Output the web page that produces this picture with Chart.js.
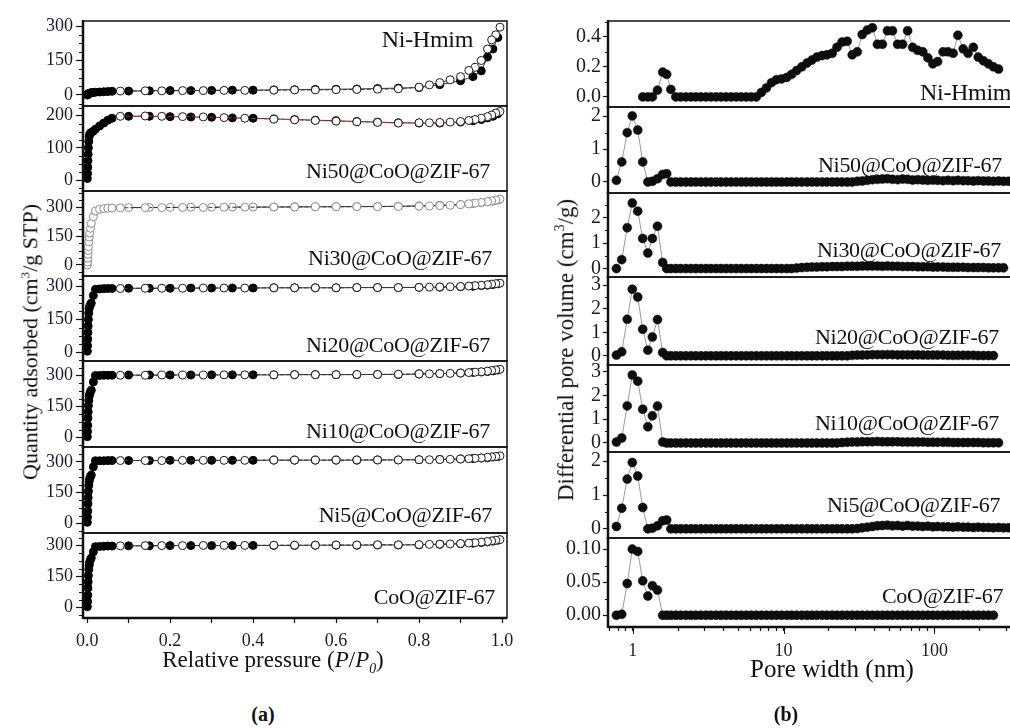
<!DOCTYPE html>
<html>
<head>
<meta charset="utf-8">
<script src="https://cdn.jsdelivr.net/npm/chart.js@4.4.1/dist/chart.umd.min.js"></script>
<style>
html, body { margin: 0; padding: 0; width: 1010px; height: 728px; overflow: hidden; background: #fff; }
body { position: relative; font-family: "Liberation Serif", "Times New Roman", serif; color: #111; }
canvas { position: absolute; }
.txt { position: absolute; line-height: 1; white-space: nowrap; }
.lbl { letter-spacing: -0.3px; }
</style>
</head>
<body>
<script>
// ---- data: sample names ----
const SAMPLES = ['Ni-Hmim', 'Ni50@CoO@ZIF-67', 'Ni30@CoO@ZIF-67', 'Ni20@CoO@ZIF-67', 'Ni10@CoO@ZIF-67', 'Ni5@CoO@ZIF-67', 'CoO@ZIF-67'];

// ---- (a) N2 isotherms: relative pressure of adsorption / desorption points ----
const P_ADS = [0.0005, 0.001, 0.0015, 0.002, 0.0025, 0.003, 0.004, 0.005, 0.006, 0.008, 0.01, 0.015, 0.02, 0.03, 0.04, 0.05, 0.06,
    0.1, 0.15, 0.2, 0.25, 0.3, 0.35, 0.4, 0.45, 0.5, 0.55, 0.6, 0.65, 0.7, 0.75, 0.8, 0.85, 0.9, 0.93, 0.95, 0.965, 0.978, 0.99];
const P_DES = [0.995, 0.985, 0.975, 0.965, 0.95, 0.935, 0.92, 0.9, 0.875, 0.85, 0.825, 0.8, 0.75, 0.7, 0.65, 0.6, 0.55, 0.5, 0.45,
    0.38, 0.33, 0.28, 0.23, 0.18, 0.14, 0.08];

// quantity adsorbed (cm3/g STP)
const ADS_HMIM = [0, 1, 2, 3, 4, 5, 6, 7, 8, 9, 10, 11, 12, 13, 14, 15, 16, 17, 18, 19, 19, 20, 21, 21, 22, 23, 24, 25, 26, 28, 30, 32, 45, 62, 80, 105, 165, 200, 250];
const DES_HMIM = [295, 262, 240, 200, 150, 120, 107, 80, 66, 54, 44, 34, 27, 25, 24, 23, 22, 22, 21, 20, 20, 19, 19, 18, 18, 17];
const ADS_NI50 = [5, 20, 40, 60, 80, 100, 120, 135, 142, 146, 148, 152, 158, 168, 177, 186, 192, 198, 198, 197, 196, 195, 193, 192, 190, 188, 186, 184, 182, 180, 178, 177, 177, 180, 184, 188, 193, 198, 206];
const DES_NI50 = [213, 208, 202, 197, 192, 188, 185, 182, 180, 179, 178, 178, 177, 179, 181, 183, 185, 187, 189, 192, 194, 196, 197, 198, 199, 198];
const ADS_NI30 = [0, 15, 35, 55, 75, 95, 120, 145, 165, 190, 215, 250, 279, 288, 292, 294, 295, 297, 298, 298, 299, 299, 300, 300, 300, 301, 301, 302, 302, 303, 304, 306, 309, 313, 318, 322, 326, 330, 336];
const DES_NI30 = [341, 336, 332, 328, 324, 320, 316, 312, 309, 307, 305, 304, 303, 302, 302, 301, 301, 300, 300, 299, 299, 298, 298, 297, 297, 296];
const ADS_NI20 = [5, 30, 60, 90, 120, 150, 180, 200, 210, 218, 225, 260, 288, 290, 291, 292, 292, 293, 293, 293, 294, 294, 294, 294, 295, 295, 295, 295, 296, 296, 296, 297, 298, 300, 302, 305, 307, 310, 313];
const DES_NI20 = [316, 314, 312, 309, 307, 305, 303, 301, 300, 299, 298, 297, 296, 296, 296, 295, 295, 295, 295, 294, 294, 294, 293, 293, 293, 292];
const ADS_NI10 = [5, 30, 60, 95, 125, 155, 180, 200, 212, 222, 230, 270, 300, 301, 302, 302, 302, 303, 303, 303, 303, 304, 304, 304, 304, 305, 305, 305, 305, 306, 306, 308, 310, 313, 316, 318, 320, 323, 327];
const DES_NI10 = [331, 328, 325, 322, 319, 317, 315, 313, 311, 310, 309, 308, 307, 306, 306, 305, 305, 305, 304, 304, 304, 303, 303, 303, 302, 302];
const ADS_NI5 = [5, 30, 60, 95, 125, 155, 185, 205, 218, 228, 235, 275, 305, 305, 305, 306, 306, 306, 306, 307, 307, 307, 307, 307, 308, 308, 308, 308, 308, 309, 309, 310, 312, 314, 316, 318, 320, 323, 326];
const DES_NI5 = [329, 326, 324, 322, 319, 317, 315, 313, 312, 311, 310, 310, 309, 309, 309, 308, 308, 308, 308, 307, 307, 307, 307, 306, 306, 306];
const ADS_COO = [5, 30, 60, 95, 125, 155, 185, 205, 220, 232, 240, 270, 295, 296, 297, 298, 298, 299, 299, 300, 300, 300, 300, 301, 301, 301, 302, 302, 302, 303, 303, 304, 306, 309, 312, 315, 318, 322, 326];
const DES_COO = [329, 326, 323, 320, 317, 314, 312, 310, 308, 307, 306, 305, 304, 304, 303, 303, 302, 302, 302, 301, 301, 301, 300, 300, 300, 299];

// ---- (b) pore size distribution: pore width (nm) and differential pore volume (cm3/g) ----
const WIDTH = [0.78, 0.846, 0.92, 0.994, 1.08, 1.165, 1.26, 1.35, 1.46, 1.58,
    1.68, 1.79, 1.93, 2.08, 2.25, 2.43, 2.62, 2.83, 3.06, 3.30,
    3.57, 3.85, 4.16, 4.49, 4.85, 5.24, 5.66, 6.11, 6.60, 7.13,
    7.70, 8.32, 8.98, 9.70, 10.5, 11.3, 12.2, 13.2, 14.3, 15.4,
    16.6, 18.0, 19.4, 21.0, 22.6, 24.4, 26.4, 28.5, 30.8, 33.2,
    35.9, 38.8, 41.9, 45.2, 48.8, 52.7, 57.0, 61.5, 66.4, 71.7,
    77.5, 83.7, 90.4, 97.6, 105, 114, 123, 133, 143, 155,
    167, 181, 195, 211, 228, 246, 266, 287, 310, 335];
const PSD_HMIM = [null, null, null, null, null, 0, 0, 0, 0.045, 0.165,
    0.15, 0.05, 0, 0, 0, 0, 0, 0, 0, 0,
    0, 0, 0, 0, 0, 0, 0, 0, 0, 0.03,
    0.06, 0.095, 0.115, 0.12, 0.13, 0.15, 0.175, 0.2, 0.225, 0.245,
    0.265, 0.275, 0.28, 0.29, 0.33, 0.365, 0.37, 0.28, 0.3, 0.415,
    0.445, 0.46, 0.35, 0.35, 0.44, 0.44, 0.35, 0.35, 0.44, 0.33,
    0.31, 0.3, 0.26, 0.22, 0.235, 0.3, 0.3, 0.29, 0.41, 0.32,
    0.29, 0.33, 0.265, 0.24, 0.22, 0.2, 0.185, null, null, null];
const PSD_NI50 = [0.05, 0.61, 1.5, 2.01, 1.58, 0.61, 0, 0.02, 0.1, 0.23,
    0.25, 0, 0, 0, 0, 0, 0, 0, 0, 0,
    0, 0, 0, 0, 0, 0, 0, 0, 0, 0,
    0, 0, 0, 0, 0, 0, 0, 0, 0, 0,
    0, 0, 0, 0, 0, 0, 0, 0, 0.02, 0.03,
    0.05, 0.07, 0.08, 0.09, 0.1, 0.08, 0.07, 0.09, 0.08, 0.06,
    0.07, 0.06, 0.05, 0.06, 0.05, 0.04, 0.05, 0.04, 0.05, 0.04,
    0.04, 0.03, 0.04, 0.03, 0.03, 0.02, 0.03, 0.02, 0.02, 0.02];
const PSD_NI30 = [0, 0.35, 1.6, 2.57, 2.25, 1.18, 0.61, 1.18, 1.66, 0.24,
    0, 0, 0, 0, 0, 0, 0, 0, 0, 0,
    0, 0, 0, 0, 0, 0, 0, 0, 0, 0,
    0, 0, 0, 0, 0, 0, 0.02, 0.04, 0.05, 0.06,
    0.06, 0.07, 0.07, 0.08, 0.08, 0.08, 0.09, 0.09, 0.09, 0.1,
    0.1, 0.1, 0.1, 0.09, 0.1, 0.09, 0.09, 0.08, 0.08, 0.08,
    0.07, 0.07, 0.07, 0.06, 0.06, 0.06, 0.05, 0.05, 0.05, 0.05,
    0.04, 0.04, 0.04, 0.04, 0.03, 0.03, 0.03, 0.03, null, null];
const PSD_NI20 = [0.03, 0.17, 1.55, 2.83, 2.5, 1.13, 0.24, 0.8, 1.54, 0.14,
    0, 0, 0, 0, 0, 0, 0, 0, 0, 0,
    0, 0, 0, 0, 0, 0, 0, 0, 0, 0,
    0, 0, 0, 0, 0, 0, 0, 0, 0, 0,
    0, 0, 0, 0, 0, 0, 0, 0.02, 0.03, 0.03,
    0.04, 0.05, 0.05, 0.05, 0.05, 0.05, 0.04, 0.04, 0.04, 0.04,
    0.04, 0.03, 0.03, 0.03, 0.03, 0.03, 0.02, 0.02, 0.02, 0.02,
    0.02, 0.02, 0.01, 0.01, 0.01, 0.01, null, null, null, null];
const PSD_NI10 = [0.04, 0.21, 1.56, 2.86, 2.6, 1.42, 0.68, 1.14, 1.55, 0.04,
    0, 0, 0, 0, 0, 0, 0, 0, 0, 0,
    0, 0, 0, 0, 0, 0, 0, 0, 0, 0,
    0, 0, 0, 0, 0, 0, 0, 0, 0, 0,
    0, 0, 0, 0, 0, 0.02, 0.03, 0.04, 0.04, 0.05,
    0.05, 0.05, 0.06, 0.05, 0.05, 0.05, 0.05, 0.04, 0.04, 0.04,
    0.04, 0.04, 0.03, 0.03, 0.03, 0.03, 0.03, 0.02, 0.02, 0.02,
    0.02, 0.02, 0.02, 0.01, 0.01, 0.01, 0.01, null, null, null];
const PSD_NI5 = [0.07, 0.61, 1.47, 1.96, 1.56, 0.63, 0, 0.02, 0.09, 0.24,
    0.26, 0, 0, 0, 0, 0, 0, 0, 0, 0,
    0, 0, 0, 0, 0, 0, 0, 0, 0, 0,
    0, 0, 0, 0, 0, 0, 0, 0, 0, 0,
    0, 0, 0, 0, 0, 0, 0, 0, 0.01, 0.03,
    0.05, 0.07, 0.09, 0.1, 0.11, 0.09, 0.1, 0.08, 0.1, 0.08,
    0.08, 0.07, 0.08, 0.06, 0.07, 0.06, 0.06, 0.05, 0.06, 0.05,
    0.05, 0.04, 0.05, 0.04, 0.04, 0.03, 0.04, 0.03, 0.03, 0.03];
const PSD_COO = [0, 0.0015, 0.048, 0.1, 0.0965, 0.052, 0.029, 0.0447, 0.038, 0,
    0, 0, 0, 0, 0, 0, 0, 0, 0, 0,
    0, 0, 0, 0, 0, 0, 0, 0, 0, 0,
    0, 0, 0, 0, 0, 0, 0, 0, 0, 0,
    0, 0, 0, 0, 0, 0, 0, 0, 0, 0,
    0, 0, 0, 0, 0, 0, 0, 0, 0, 0,
    0, 0, 0, 0, 0, 0, 0, 0, 0, 0,
    0, 0, 0, 0, 0, 0, null, null, null, null];

// ---- tick values and labels ----
const X_TICKS_A = [0, 0.1, 0.2, 0.3, 0.4, 0.5, 0.6, 0.7, 0.8, 0.9, 1.0];
const X_LABELS_A = ['0.0', '', '0.2', '', '0.4', '', '0.6', '', '0.8', '', '1.0'];
const X_TICKS_B = [0.7, 0.8, 0.9, 1, 2, 3, 4, 5, 6, 7, 8, 9, 10, 20, 30, 40, 50, 60, 70, 80, 90, 100, 200, 300, 400];
const X_MAJOR_B = [1, 10, 100];
const Y_TICKS_A = [[0, 150, 300], [0, 100, 200], [0, 150, 300], [0, 150, 300], [0, 150, 300], [0, 150, 300], [0, 150, 300]];
const Y_LABELS_A = [['0', '150', '300'], ['0', '100', '200'], ['0', '150', '300'], ['0', '150', '300'], ['0', '150', '300'], ['0', '150', '300'], ['0', '150', '300']];
const Y_TICKS_B = [[0, 0.2, 0.4], [0, 1, 2], [0, 1, 2], [0, 1, 2, 3], [0, 1, 2, 3], [0, 1, 2], [0, 0.05, 0.1]];
const Y_LABELS_B = [['0.0', '0.2', '0.4'], ['0', '1', '2'], ['0', '1', '2'], ['0', '1', '2', '3'], ['0', '1', '2', '3'], ['0', '1', '2'], ['0.00', '0.05', '0.10']];

// ---- layout (positions / ranges) ----
const LEFT_ROWS = [21, 106, 191, 276, 361, 447, 533, 618];
const RIGHT_ROWS = [21, 107, 193, 277, 365, 452, 538, 627];
const LEFT_Y_RANGE = [[-48, 322], [-34, 230], [-57, 383], [-40, 349], [-45, 371], [-47, 372], [-50, 361]];
const RIGHT_Y_RANGE = [[-0.067, 0.505], [-0.335, 2.28], [-0.33, 2.96], [-0.39, 3.35], [-0.38, 3.28], [-0.27, 2.27], [-0.0178, 0.1168]];
const LEFT_MINOR = [37.5, 25, 37.5, 37.5, 37.5, 37.5, 37.5];
const RIGHT_MINOR = [0.1, 0.5, 0.5, 0.5, 0.5, 0.5, 0.025];
const LEFT_LABEL_POS = [[473, 47], [490, 178], [492, 265], [490, 352], [490, 438], [492, 522], [495, 604]];
const RIGHT_LABEL_POS = [[920, 100], [818, 172], [817, 257], [815, 344], [815, 430], [827, 512], [882, 603]];

const ISO_ADS = [ADS_HMIM, ADS_NI50, ADS_NI30, ADS_NI20, ADS_NI10, ADS_NI5, ADS_COO];
const ISO_DES = [DES_HMIM, DES_NI50, DES_NI30, DES_NI20, DES_NI10, DES_NI5, DES_COO];
const PSD = [PSD_HMIM, PSD_NI50, PSD_NI30, PSD_NI20, PSD_NI10, PSD_NI5, PSD_COO];

const SERIF = '"Liberation Serif", "Times New Roman", serif';
const INK = '#111';
const PAD = 16, AXW = 60, XH = 44;

// рамка, малые деления и толстая ось
const framePlugin = {
    id: 'subFrame',
    afterDraw(chart, args, opts) {
        const { ctx, chartArea: a } = chart;
        const ys = chart.scales.y;
        ctx.save();
        ctx.strokeStyle = INK;
        ctx.lineWidth = 1;
        const step = opts.minor;
        for (let k = Math.ceil(ys.min / step); k * step <= ys.max; k++) {
            const v = k * step;
            if (opts.major.some(m => Math.abs(m - v) < step * 1e-4)) continue;
            const y = Math.round(ys.getPixelForValue(v)) + 0.5;
            ctx.beginPath();
            ctx.moveTo(a.left - opts.minorLen, y);
            ctx.lineTo(a.left, y);
            ctx.stroke();
        }
        if (opts.xMajor && opts.isBottom) {
            const xs = chart.scales.x;
            opts.xMajor.forEach(v => {
                const x = Math.round(xs.getPixelForValue(v)) + 0.5;
                ctx.beginPath();
                ctx.moveTo(x, a.bottom);
                ctx.lineTo(x, a.bottom + opts.xMajorLen);
                ctx.stroke();
            });
        }
        ctx.lineWidth = 1.5;
        ctx.strokeRect(a.left, a.top, a.right - a.left, a.bottom - a.top);
        ctx.lineWidth = 2.5;
        ctx.beginPath();
        ctx.moveTo(a.left, a.top - 1);
        ctx.lineTo(a.left, a.bottom + 1);
        ctx.stroke();
        if (opts.isBottom) {
            ctx.beginPath();
            ctx.moveTo(a.left, a.bottom);
            ctx.lineTo(a.right, a.bottom);
            ctx.stroke();
        }
        ctx.restore();
    }
};

function makeSubplot(o) {
    const c = document.createElement('canvas');
    const h = o.bottom - o.top;
    c.width = o.canvasW;
    c.height = h + PAD * 2 + (o.isBottom ? XH : 0);
    c.style.left = o.canvasLeft + 'px';
    c.style.top = (o.top - PAD) + 'px';
    document.body.appendChild(c);

    const xScale = Object.assign({
        display: o.isBottom,
        afterFit: s => { s.height = o.isBottom ? XH : 0; },
        border: { display: false },
        grid: { drawOnChartArea: false, tickLength: 5, tickColor: INK, tickWidth: 1.2 }
    }, o.x);

    new Chart(c, {
        type: 'scatter',
        data: { datasets: o.datasets },
        options: {
            responsive: false,
            animation: false,
            devicePixelRatio: 1,
            layout: {
                padding: {
                    left: o.plotLeft - o.canvasLeft - AXW,
                    right: o.canvasLeft + o.canvasW - o.plotRight,
                    top: PAD,
                    bottom: PAD
                }
            },
            plugins: {
                legend: { display: false },
                tooltip: { enabled: false },
                subFrame: { minor: o.minor, minorLen: o.minorLen, major: o.yTicks, isBottom: o.isBottom, xMajor: o.xMajor, xMajorLen: 7 }
            },
            scales: {
                x: xScale,
                y: {
                    type: 'linear',
                    min: o.yRange[0],
                    max: o.yRange[1],
                    afterFit: s => { s.width = AXW; },
                    afterBuildTicks: s => { s.ticks = o.yTicks.map(v => ({ value: v })); },
                    border: { display: false },
                    grid: { drawOnChartArea: false, tickLength: o.yTickLen, tickColor: INK, tickWidth: 1.2 },
                    ticks: {
                        autoSkip: false,
                        padding: o.yPad,
                        color: '#1a1a2e',
                        font: { family: SERIF, size: o.yFont },
                        callback: (v, i) => o.yLabels[i]
                    }
                }
            }
        },
        plugins: [framePlugin]
    });
}

function addText(html, x, baseline, size, align, extra) {
    const d = document.createElement('div');
    d.className = 'txt ' + (extra || '');
    d.innerHTML = html;
    d.style.fontSize = size + 'px';
    d.style.left = x + 'px';
    d.style.top = (baseline - 0.84 * size) + 'px';
    if (align === 'right') d.style.transform = 'translateX(-100%)';
    if (align === 'center') d.style.transform = 'translateX(-50%)';
    document.body.appendChild(d);
    return d;
}

function addVertical(html, cx, cy, size) {
    const d = document.createElement('div');
    d.className = 'txt';
    d.innerHTML = html;
    d.style.fontSize = size + 'px';
    d.style.left = cx + 'px';
    d.style.top = cy + 'px';
    d.style.transform = 'translate(-50%, -50%) rotate(-90deg)';
    document.body.appendChild(d);
}

// ---- (a) isotherms ----
for (let i = 0; i < 7; i++) {
    const gray = i === 2;
    const openColor = gray ? '#8c8c8c' : '#1a1a1a';
    const des = {
        data: P_DES.map((p, k) => ({ x: p, y: ISO_DES[i][k] })),
        showLine: true,
        borderColor: i === 1 ? '#e0261e' : '#333',
        borderDash: [4, 2],
        borderWidth: 1,
        pointRadius: 4,
        pointBackgroundColor: '#fff',
        pointBorderColor: openColor,
        pointBorderWidth: 1
    };
    const ads = {
        data: P_ADS.map((p, k) => ({ x: p, y: ISO_ADS[i][k] })),
        showLine: true,
        borderColor: '#333',
        borderWidth: 1,
        pointRadius: 4,
        pointBackgroundColor: gray ? '#fff' : '#000',
        pointBorderColor: gray ? '#8c8c8c' : '#000',
        pointBorderWidth: 1
    };
    makeSubplot({
        canvasLeft: 0, canvasW: 560, plotLeft: 83, plotRight: 507,
        top: LEFT_ROWS[i], bottom: LEFT_ROWS[i + 1], isBottom: i === 6,
        x: {
            type: 'linear', min: -0.01, max: 1.012,
            afterBuildTicks: s => { s.ticks = X_TICKS_A.map(v => ({ value: v })); },
            ticks: { autoSkip: false, maxRotation: 0, padding: 7, color: '#1a1a2e', font: { family: SERIF, size: 18 }, callback: (v, k) => X_LABELS_A[k] }
        },
        yRange: LEFT_Y_RANGE[i], yTicks: Y_TICKS_A[i], yLabels: Y_LABELS_A[i],
        yFont: 18, yTickLen: 7, yPad: 3,
        minor: LEFT_MINOR[i], minorLen: 4,
        datasets: [des, ads]
    });
    const [lx, ly] = LEFT_LABEL_POS[i];
    addText(SAMPLES[i], lx, ly, i === 0 ? 24 : 22, 'right', 'lbl');
}

// ---- (b) pore size distribution ----
for (let i = 0; i < 7; i++) {
    const pts = WIDTH.map((w, k) => ({ x: w, y: PSD[i][k] })).filter(d => d.y !== null);
    makeSubplot({
        canvasLeft: 530, canvasW: 560, plotLeft: 608, plotRight: 1033,
        top: RIGHT_ROWS[i], bottom: RIGHT_ROWS[i + 1], isBottom: i === 6,
        x: {
            type: 'logarithmic', min: 0.686, max: 450,
            afterBuildTicks: s => { s.ticks = X_TICKS_B.map(v => ({ value: v })); },
            grid: { drawOnChartArea: false, tickLength: 4, tickColor: INK, tickWidth: 1.2 },
            ticks: {
                autoSkip: false, maxRotation: 0, padding: 9, color: '#1a1a2e', font: { family: SERIF, size: 18 },
                callback: (v, k) => X_MAJOR_B.includes(X_TICKS_B[k]) ? String(X_TICKS_B[k]) : ''
            }
        },
        xMajor: X_MAJOR_B,
        yRange: RIGHT_Y_RANGE[i], yTicks: Y_TICKS_B[i], yLabels: Y_LABELS_B[i],
        yFont: 20, yTickLen: 5, yPad: 2,
        minor: RIGHT_MINOR[i], minorLen: 3,
        datasets: [{
            data: pts,
            showLine: true,
            borderColor: '#9a9a9a',
            borderWidth: 1,
            pointRadius: 4.5,
            pointBackgroundColor: '#0d0d0d',
            pointBorderColor: '#0d0d0d',
            pointBorderWidth: 0.5
        }]
    });
    const [rx, ry] = RIGHT_LABEL_POS[i];
    addText(SAMPLES[i], rx, ry, i === 0 ? 24 : 22, 'left', 'lbl');
}

// ---- axis titles and captions ----
addVertical('Quantity adsorbed (cm<sup style="font-size:0.6em">3</sup>/g STP)', 30, 342, 22);
addVertical('Differential pore volume (cm<sup style="font-size:0.6em">3</sup>/g)', 565, 350, 23);
addText('Relative pressure (<i>P</i>/<i>P</i><sub style="font-size:0.6em"><i>0</i></sub>)', 273, 667, 23, 'center');
addText('Pore width (nm)', 832, 677, 25, 'center');
addText('<b>(a)</b>', 263, 721, 20, 'center');
addText('<b>(b)</b>', 786, 721, 20, 'center');
</script>
</body>
</html>
